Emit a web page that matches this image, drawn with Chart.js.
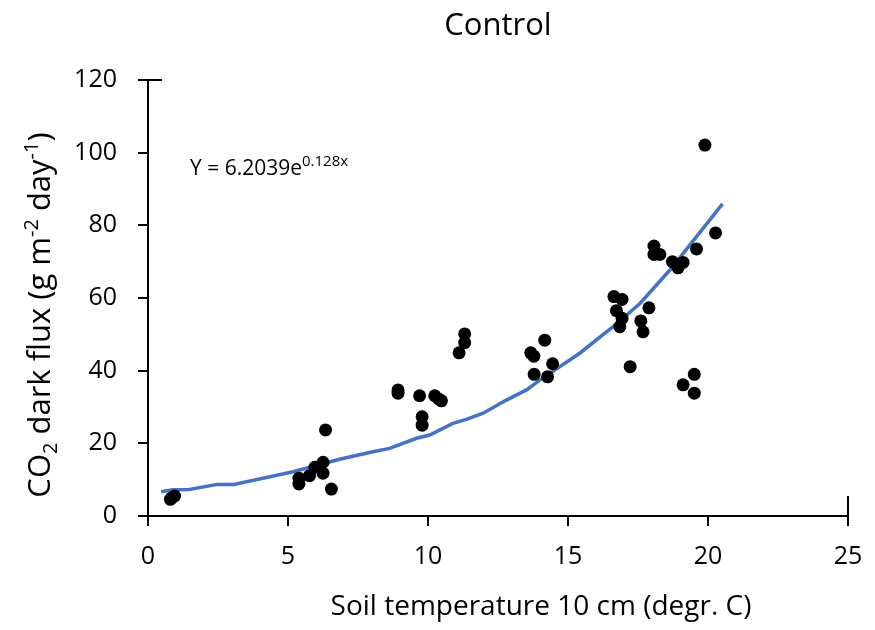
<!DOCTYPE html>
<html>
<head>
<meta charset="utf-8">
<script src="https://cdn.jsdelivr.net/npm/chart.js@4.4.0/dist/chart.umd.min.js"></script>
<style>
  html, body { margin: 0; padding: 0; background: #fff; }
  #wrap { width: 875px; height: 630px; position: relative; }
</style>
</head>
<body>
<div id="wrap"><canvas id="c" width="875" height="630"></canvas></div>
<script>
// ---- Data ----
const obsTemp = [0.80, 0.85, 0.95, 5.39, 5.39, 5.77, 5.96, 6.25, 6.25, 6.34, 6.55,
  8.93, 8.93, 9.70, 9.79, 9.79, 10.24, 10.38, 10.48, 11.11, 11.31, 11.31,
  13.67, 13.78, 13.79, 14.17, 14.27, 14.45,
  16.64, 16.73, 16.85, 16.93, 16.93, 17.22, 17.60, 17.68, 17.89,
  18.07, 18.07, 18.28, 18.73, 18.93, 19.11, 19.11, 19.51, 19.51, 19.59, 19.89, 20.27];
const obsFlux = [4.6, 5.0, 5.5, 10.4, 8.8, 11.1, 13.4, 14.8, 11.8, 23.7, 7.4,
  34.7, 33.8, 33.1, 27.3, 25.0, 33.1, 32.2, 31.7, 44.9, 50.1, 47.7,
  44.9, 44.0, 39.0, 48.4, 38.3, 41.9,
  60.4, 56.5, 52.1, 59.6, 54.4, 41.1, 53.7, 50.7, 57.3,
  74.3, 72.0, 72.0, 70.0, 68.3, 69.8, 36.1, 39.0, 33.8, 73.5, 102.1, 77.9];

const fitTemp = [0.47, 0.89, 1.48, 2.47, 3.07, 5.18, 6.84, 8.03, 8.63, 9.59, 10.06,
  10.89, 11.37, 11.97, 12.80, 13.52, 13.99, 15.42, 16.61, 17.57, 18.64, 19.59, 20.52];
const fitFlux = [6.7, 7.2, 7.3, 8.7, 8.7, 12.2, 15.6, 17.7, 18.6, 21.4, 22.3,
  25.5, 26.6, 28.3, 31.9, 34.7, 37.4, 44.8, 52.1, 58.5, 67.7, 76.9, 85.9];

const xTickValues = [0, 5, 10, 15, 20, 25];
const yTickValues = [0, 20, 40, 60, 80, 100, 120];

const chartTitle = 'Control';
const xTitle = 'Soil temperature 10 cm (degr. C)';
const equationMain = 'Y = 6.2039e';
const equationSup = '0.128x';

// ---- Build chart ----
const FONT = '"Open Sans", "DejaVu Sans", sans-serif';
const pts = obsTemp.map((t, i) => ({ x: t, y: obsFlux[i] }));
const fit = fitTemp.map((t, i) => ({ x: t, y: fitFlux[i] }));

const textPlugin = {
  id: 'texts',
  afterDraw(chart) {
    const ctx = chart.ctx;
    const xs = chart.scales.x, ys = chart.scales.y;
    ctx.save();
    // end stubs of the axes
    ctx.strokeStyle = '#000';
    ctx.lineWidth = 2;
    ctx.beginPath();
    const yTop = ys.getPixelForValue(120);
    ctx.moveTo(xs.left - 10, yTop); ctx.lineTo(xs.left + 14, yTop);
    const xR = xs.getPixelForValue(25);
    ctx.moveTo(xR, ys.bottom + 10); ctx.lineTo(xR, ys.bottom - 20);
    ctx.stroke();

    ctx.fillStyle = '#000';
    ctx.textBaseline = 'alphabetic';
    // title
    ctx.font = '31px ' + FONT;
    ctx.textAlign = 'center';
    ctx.fillText(chartTitle, 498, 35);
    // x title
    ctx.font = '28px ' + FONT;
    ctx.fillText(xTitle, 541, 615);
    // equation
    ctx.textAlign = 'left';
    ctx.font = '21px ' + FONT;
    ctx.fillText(equationMain, 190, 175);
    const w = ctx.measureText(equationMain).width;
    ctx.font = '15px ' + FONT;
    ctx.fillText(equationSup, 190 + w, 166);

    // y title (rotated, with sub/superscripts)
    const parts = [
      { t: 'CO', s: 31, dy: 0 },
      { t: '2', s: 20, dy: 7 },
      { t: ' dark flux (g m', s: 31, dy: 0 },
      { t: '-2', s: 20, dy: -12 },
      { t: ' day', s: 31, dy: 0 },
      { t: '-1', s: 20, dy: -12 },
      { t: ')', s: 31, dy: 0 }
    ];
    let total = 0;
    parts.forEach(p => { ctx.font = p.s + 'px ' + FONT; p.w = ctx.measureText(p.t).width; total += p.w; });
    ctx.translate(50, 315);
    ctx.rotate(-Math.PI / 2);
    let cx = -total / 2;
    parts.forEach(p => {
      ctx.font = p.s + 'px ' + FONT;
      ctx.fillText(p.t, cx, p.dy);
      cx += p.w;
    });
    ctx.restore();
  }
};

new Chart(document.getElementById('c'), {
  type: 'scatter',
  data: {
    datasets: [
      {
        label: 'Observed',
        data: pts,
        backgroundColor: '#000',
        borderColor: '#000',
        borderWidth: 0,
        pointRadius: 6.5,
        pointHoverRadius: 6.5,
        showLine: false
      },
      {
        label: 'Exponential fit',
        data: fit,
        showLine: true,
        borderColor: '#4472C4',
        borderWidth: 3.5,
        pointRadius: 0,
        tension: 0,
        fill: false
      }
    ]
  },
  options: {
    responsive: false,
    animation: false,
    devicePixelRatio: 1,
    layout: { padding: { left: 0, top: 80, right: 27, bottom: 0 } },
    plugins: { legend: { display: false }, tooltip: { enabled: false }, title: { display: false } },
    scales: {
      x: {
        type: 'linear', min: 0, max: 25,
        afterBuildTicks(s) { s.ticks = xTickValues.map(v => ({ value: v })); },
        afterFit(s) { s.height = 114; s.paddingLeft = 0; s.paddingRight = 0; },
        border: { display: true, color: '#000', width: 2 },
        grid: { display: true, drawOnChartArea: false, drawTicks: true, tickLength: 10, color: '#000', lineWidth: 2 },
        ticks: { color: '#000', font: { family: FONT, size: 25 }, padding: 16, maxRotation: 0 }
      },
      y: {
        type: 'linear', min: 0, max: 120,
        afterBuildTicks(s) { s.ticks = yTickValues.map(v => ({ value: v })); },
        afterFit(s) { s.width = 148; s.paddingTop = 0; s.paddingBottom = 0; },
        border: { display: true, color: '#000', width: 2 },
        grid: { display: true, drawOnChartArea: false, drawTicks: true, tickLength: 10, color: '#000', lineWidth: 2 },
        ticks: { color: '#000', font: { family: FONT, size: 25 }, padding: 21 }
      }
    }
  },
  plugins: [textPlugin]
});
</script>
</body>
</html>
